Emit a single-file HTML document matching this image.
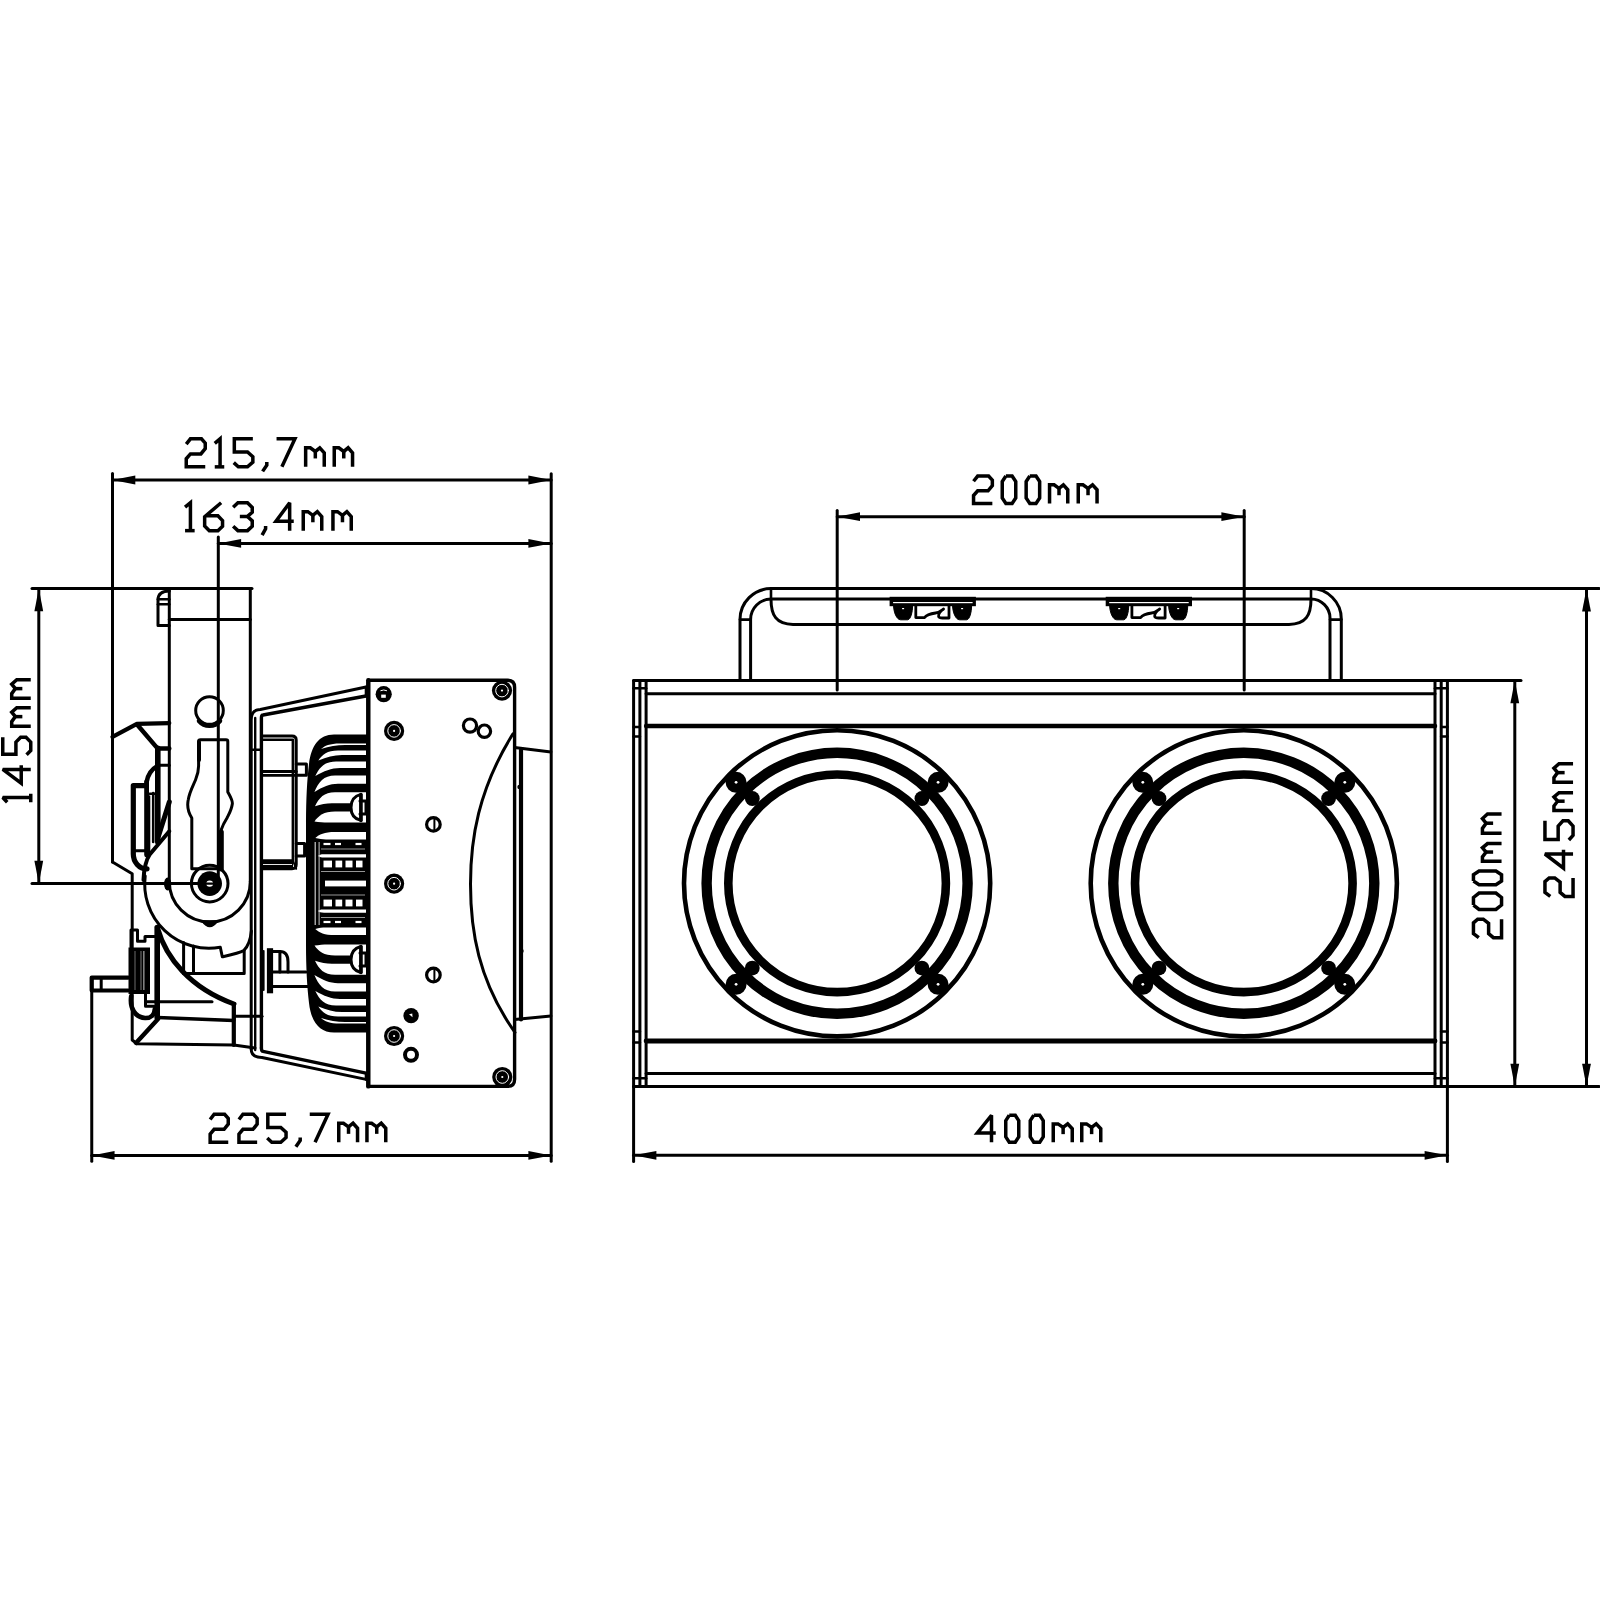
<!DOCTYPE html>
<html><head><meta charset="utf-8"><style>
html,body{margin:0;padding:0;background:#fff;overflow:hidden;}
svg{display:block;}
</style></head><body>
<svg width="1600" height="1600" viewBox="0 0 1600 1600">
<rect width="1600" height="1600" fill="#fff"/>
<g fill="none" stroke="#000" stroke-linecap="round" stroke-linejoin="round">
<path d="M186.25 444.17L190.43 438.85L201.45 438.85L205.25 443.05L205.25 448.65L200.88 453.97L190.43 453.97L186.25 458.73L186.25 466.85L205.25 466.85" stroke-width="3.5" stroke-linejoin="miter" stroke-miterlimit="2.5" stroke-linecap="butt"/>
<path d="M214.75 443.33L220.07 438.85L220.07 466.85" stroke-width="3.5" stroke-linejoin="miter" stroke-miterlimit="2.5" stroke-linecap="butt"/>
<path d="M214.75 466.85L224.25 466.85" stroke-width="3.5" stroke-linejoin="miter" stroke-miterlimit="2.5" stroke-linecap="butt"/>
<path d="M252.85 438.85L234.32 438.85L234.32 452.01L247.5 452.01L252.85 456.77L252.85 462.09L247.5 466.85L238.33 466.85L233.75 462.65" stroke-width="3.5" stroke-linejoin="miter" stroke-miterlimit="2.5" stroke-linecap="butt"/>
<path d="M266.8 462.1L266.8 465.1L262.6 471.4" stroke-width="3.5" stroke-linejoin="miter" stroke-miterlimit="2.5" stroke-linecap="butt"/>
<path d="M276.55 438.85L294.95 438.85L281.89 466.85" stroke-width="3.5" stroke-linejoin="miter" stroke-miterlimit="2.5" stroke-linecap="butt"/>
<path d="M305.65 466.85L305.65 447.81L310.3 447.81L315.32 451.45L319.79 447.81L324.25 452.85L324.25 466.85" stroke-width="3.5" stroke-linejoin="miter" stroke-miterlimit="2.5" stroke-linecap="butt"/>
<path d="M315.32 451.45L315.32 458.45" stroke-width="3.5" stroke-linejoin="miter" stroke-miterlimit="2.5" stroke-linecap="butt"/>
<path d="M334.25 466.85L334.25 447.81L338.82 447.81L343.77 451.45L348.16 447.81L352.55 452.85L352.55 466.85" stroke-width="3.5" stroke-linejoin="miter" stroke-miterlimit="2.5" stroke-linecap="butt"/>
<path d="M343.77 451.45L343.77 458.45" stroke-width="3.5" stroke-linejoin="miter" stroke-miterlimit="2.5" stroke-linecap="butt"/>
<path d="M185.05 507.21L190.43 502.75L190.43 530.65" stroke-width="3.5" stroke-linejoin="miter" stroke-miterlimit="2.5" stroke-linecap="butt"/>
<path d="M185.05 530.65L194.65 530.65" stroke-width="3.5" stroke-linejoin="miter" stroke-miterlimit="2.5" stroke-linecap="butt"/>
<path d="M221.12 502.75L204.65 516.7L204.65 525.91L209.3 530.65L217.9 530.65L222.55 526.19L222.55 520.61L217.9 515.86L205.37 515.86" stroke-width="3.5" stroke-linejoin="miter" stroke-miterlimit="2.5" stroke-linecap="butt"/>
<path d="M233.15 507.21L237.93 502.75L247.47 502.75L252.25 507.49L252.25 512.24L247.47 516.42L239.84 516.42" stroke-width="3.5" stroke-linejoin="miter" stroke-miterlimit="2.5" stroke-linecap="butt"/>
<path d="M247.47 516.42L252.25 520.88L252.25 526.19L247.47 530.65L237.93 530.65L233.15 526.19" stroke-width="3.5" stroke-linejoin="miter" stroke-miterlimit="2.5" stroke-linecap="butt"/>
<path d="M265.6 525.9L265.6 528.9L262.1 535.2" stroke-width="3.5" stroke-linejoin="miter" stroke-miterlimit="2.5" stroke-linecap="butt"/>
<path d="M289.66 530.65L289.66 502.75L275.95 521.16L293.75 521.16" stroke-width="3.5" stroke-linejoin="miter" stroke-miterlimit="2.5" stroke-linecap="butt"/>
<path d="M303.25 530.65L303.25 511.68L307.88 511.68L312.87 515.3L317.31 511.68L321.75 516.7L321.75 530.65" stroke-width="3.5" stroke-linejoin="miter" stroke-miterlimit="2.5" stroke-linecap="butt"/>
<path d="M312.87 515.3L312.87 522.28" stroke-width="3.5" stroke-linejoin="miter" stroke-miterlimit="2.5" stroke-linecap="butt"/>
<path d="M332.95 530.65L332.95 511.68L337.52 511.68L342.47 515.3L346.86 511.68L351.25 516.7L351.25 530.65" stroke-width="3.5" stroke-linejoin="miter" stroke-miterlimit="2.5" stroke-linecap="butt"/>
<path d="M342.47 515.3L342.47 522.28" stroke-width="3.5" stroke-linejoin="miter" stroke-miterlimit="2.5" stroke-linecap="butt"/>
<path d="M210.15 1119.57L214.13 1114.25L224.63 1114.25L228.25 1118.45L228.25 1124.05L224.09 1129.37L214.13 1129.37L210.15 1134.13L210.15 1142.25L228.25 1142.25" stroke-width="3.5" stroke-linejoin="miter" stroke-miterlimit="2.5" stroke-linecap="butt"/>
<path d="M238.95 1119.57L242.95 1114.25L253.51 1114.25L257.15 1118.45L257.15 1124.05L252.96 1129.37L242.95 1129.37L238.95 1134.13L238.95 1142.25L257.15 1142.25" stroke-width="3.5" stroke-linejoin="miter" stroke-miterlimit="2.5" stroke-linecap="butt"/>
<path d="M286.05 1114.25L267.81 1114.25L267.81 1127.41L280.79 1127.41L286.05 1132.17L286.05 1137.49L280.79 1142.25L271.76 1142.25L267.25 1138.05" stroke-width="3.5" stroke-linejoin="miter" stroke-miterlimit="2.5" stroke-linecap="butt"/>
<path d="M300.2 1137.5L300.2 1140.5L295.9 1146.8" stroke-width="3.5" stroke-linejoin="miter" stroke-miterlimit="2.5" stroke-linecap="butt"/>
<path d="M309.75 1114.25L328.05 1114.25L315.06 1142.25" stroke-width="3.5" stroke-linejoin="miter" stroke-miterlimit="2.5" stroke-linecap="butt"/>
<path d="M338.75 1142.25L338.75 1123.21L343.45 1123.21L348.53 1126.85L353.04 1123.21L357.55 1128.25L357.55 1142.25" stroke-width="3.5" stroke-linejoin="miter" stroke-miterlimit="2.5" stroke-linecap="butt"/>
<path d="M348.53 1126.85L348.53 1133.85" stroke-width="3.5" stroke-linejoin="miter" stroke-miterlimit="2.5" stroke-linecap="butt"/>
<path d="M366.95 1142.25L366.95 1123.21L371.65 1123.21L376.73 1126.85L381.24 1123.21L385.75 1128.25L385.75 1142.25" stroke-width="3.5" stroke-linejoin="miter" stroke-miterlimit="2.5" stroke-linecap="butt"/>
<path d="M376.73 1126.85L376.73 1133.85" stroke-width="3.5" stroke-linejoin="miter" stroke-miterlimit="2.5" stroke-linecap="butt"/>
<path d="M973.55 481.26L977.69 476.05L988.59 476.05L992.35 480.16L992.35 485.64L988.03 490.85L977.69 490.85L973.55 495.5L973.55 503.45L992.35 503.45" stroke-width="3.5" stroke-linejoin="miter" stroke-miterlimit="2.5" stroke-linecap="butt"/>
<path d="M1005.89 476.05L1012.11 476.05L1015.75 481.53L1015.75 497.97L1012.11 503.45L1005.89 503.45L1002.25 497.97L1002.25 481.53L1005.89 476.05" stroke-width="3.5" stroke-linejoin="miter" stroke-miterlimit="2.5" stroke-linecap="butt"/>
<path d="M1029.8 476.05L1036.01 476.05L1039.65 481.53L1039.65 497.97L1036.01 503.45L1029.8 503.45L1026.15 497.97L1026.15 481.53L1029.8 476.05" stroke-width="3.5" stroke-linejoin="miter" stroke-miterlimit="2.5" stroke-linecap="butt"/>
<path d="M1049.55 503.45L1049.55 484.82L1054.1 484.82L1059.01 488.38L1063.38 484.82L1067.75 489.75L1067.75 503.45" stroke-width="3.5" stroke-linejoin="miter" stroke-miterlimit="2.5" stroke-linecap="butt"/>
<path d="M1059.01 488.38L1059.01 495.23" stroke-width="3.5" stroke-linejoin="miter" stroke-miterlimit="2.5" stroke-linecap="butt"/>
<path d="M1078.25 503.45L1078.25 484.82L1082.95 484.82L1088.03 488.38L1092.54 484.82L1097.05 489.75L1097.05 503.45" stroke-width="3.5" stroke-linejoin="miter" stroke-miterlimit="2.5" stroke-linecap="butt"/>
<path d="M1088.03 488.38L1088.03 495.23" stroke-width="3.5" stroke-linejoin="miter" stroke-miterlimit="2.5" stroke-linecap="butt"/>
<path d="M991.5 1142.25L991.5 1115.25L977.25 1133.07L995.75 1133.07" stroke-width="3.5" stroke-linejoin="miter" stroke-miterlimit="2.5" stroke-linecap="butt"/>
<path d="M1009.26 1115.25L1015.24 1115.25L1018.75 1120.65L1018.75 1136.85L1015.24 1142.25L1009.26 1142.25L1005.75 1136.85L1005.75 1120.65L1009.26 1115.25" stroke-width="3.5" stroke-linejoin="miter" stroke-miterlimit="2.5" stroke-linecap="butt"/>
<path d="M1033.76 1115.25L1039.74 1115.25L1043.25 1120.65L1043.25 1136.85L1039.74 1142.25L1033.76 1142.25L1030.25 1136.85L1030.25 1120.65L1033.76 1115.25" stroke-width="3.5" stroke-linejoin="miter" stroke-miterlimit="2.5" stroke-linecap="butt"/>
<path d="M1053.25 1142.25L1053.25 1123.89L1058 1123.89L1063.13 1127.4L1067.69 1123.89L1072.25 1128.75L1072.25 1142.25" stroke-width="3.5" stroke-linejoin="miter" stroke-miterlimit="2.5" stroke-linecap="butt"/>
<path d="M1063.13 1127.4L1063.13 1134.15" stroke-width="3.5" stroke-linejoin="miter" stroke-miterlimit="2.5" stroke-linecap="butt"/>
<path d="M1081.75 1142.25L1081.75 1123.89L1086.5 1123.89L1091.63 1127.4L1096.19 1123.89L1100.75 1128.75L1100.75 1142.25" stroke-width="3.5" stroke-linejoin="miter" stroke-miterlimit="2.5" stroke-linecap="butt"/>
<path d="M1091.63 1127.4L1091.63 1134.15" stroke-width="3.5" stroke-linejoin="miter" stroke-miterlimit="2.5" stroke-linecap="butt"/>
<path d="M1478.79 937.65L1473.45 933.58L1473.45 922.85L1477.66 919.15L1483.29 919.15L1488.62 923.4L1488.62 933.58L1493.4 937.65L1501.55 937.65L1501.55 919.15" stroke-width="3.5" stroke-linejoin="miter" stroke-miterlimit="2.5" stroke-linecap="butt"/>
<path d="M1473.45 905.02L1473.45 897.48L1479.07 893.05L1495.93 893.05L1501.55 897.48L1501.55 905.02L1495.93 909.45L1479.07 909.45L1473.45 905.02" stroke-width="3.5" stroke-linejoin="miter" stroke-miterlimit="2.5" stroke-linecap="butt"/>
<path d="M1473.45 881.05L1473.45 874.75L1479.07 871.05L1495.93 871.05L1501.55 874.75L1501.55 881.05L1495.93 884.75L1479.07 884.75L1473.45 881.05" stroke-width="3.5" stroke-linejoin="miter" stroke-miterlimit="2.5" stroke-linecap="butt"/>
<path d="M1501.55 861.25L1482.44 861.25L1482.44 856.82L1486.1 852.05L1482.44 847.8L1487.5 843.55L1501.55 843.55" stroke-width="3.5" stroke-linejoin="miter" stroke-miterlimit="2.5" stroke-linecap="butt"/>
<path d="M1486.1 852.05L1493.12 852.05" stroke-width="3.5" stroke-linejoin="miter" stroke-miterlimit="2.5" stroke-linecap="butt"/>
<path d="M1501.55 833.25L1482.44 833.25L1482.44 828.42L1486.1 823.21L1482.44 818.58L1487.5 813.95L1501.55 813.95" stroke-width="3.5" stroke-linejoin="miter" stroke-miterlimit="2.5" stroke-linecap="butt"/>
<path d="M1486.1 823.21L1493.12 823.21" stroke-width="3.5" stroke-linejoin="miter" stroke-miterlimit="2.5" stroke-linecap="butt"/>
<path d="M1550.29 896.45L1544.95 892.38L1544.95 881.65L1549.16 877.95L1554.79 877.95L1560.12 882.21L1560.12 892.38L1564.9 896.45L1573.05 896.45L1573.05 877.95" stroke-width="3.5" stroke-linejoin="miter" stroke-miterlimit="2.5" stroke-linecap="butt"/>
<path d="M1573.05 854L1544.95 854L1563.5 868.25L1563.5 849.75" stroke-width="3.5" stroke-linejoin="miter" stroke-miterlimit="2.5" stroke-linecap="butt"/>
<path d="M1544.95 820.75L1544.95 839.47L1558.16 839.47L1558.16 826.15L1562.93 820.75L1568.27 820.75L1573.05 826.15L1573.05 835.42L1568.84 840.05" stroke-width="3.5" stroke-linejoin="miter" stroke-miterlimit="2.5" stroke-linecap="butt"/>
<path d="M1573.05 810.45L1553.94 810.45L1553.94 806L1557.6 801.19L1553.94 796.92L1559 792.65L1573.05 792.65" stroke-width="3.5" stroke-linejoin="miter" stroke-miterlimit="2.5" stroke-linecap="butt"/>
<path d="M1557.6 801.19L1564.62 801.19" stroke-width="3.5" stroke-linejoin="miter" stroke-miterlimit="2.5" stroke-linecap="butt"/>
<path d="M1573.05 782.25L1553.94 782.25L1553.94 777.62L1557.6 772.63L1553.94 768.19L1559 763.75L1573.05 763.75" stroke-width="3.5" stroke-linejoin="miter" stroke-miterlimit="2.5" stroke-linecap="butt"/>
<path d="M1557.6 772.63L1564.62 772.63" stroke-width="3.5" stroke-linejoin="miter" stroke-miterlimit="2.5" stroke-linecap="butt"/>
<path d="M7.23 802.25L2.75 797.49L30.75 797.49" stroke-width="3.5" stroke-linejoin="miter" stroke-miterlimit="2.5" stroke-linecap="butt"/>
<path d="M30.75 802.25L30.75 793.75" stroke-width="3.5" stroke-linejoin="miter" stroke-miterlimit="2.5" stroke-linecap="butt"/>
<path d="M30.75 769.39L2.75 769.39L21.23 783.25L21.23 765.25" stroke-width="3.5" stroke-linejoin="miter" stroke-miterlimit="2.5" stroke-linecap="butt"/>
<path d="M2.75 737.25L2.75 754.23L15.91 754.23L15.91 742.15L20.67 737.25L25.99 737.25L30.75 742.15L30.75 750.55L26.55 754.75" stroke-width="3.5" stroke-linejoin="miter" stroke-miterlimit="2.5" stroke-linecap="butt"/>
<path d="M30.75 726.25L11.71 726.25L11.71 721.62L15.35 716.63L11.71 712.19L16.75 707.75L30.75 707.75" stroke-width="3.5" stroke-linejoin="miter" stroke-miterlimit="2.5" stroke-linecap="butt"/>
<path d="M15.35 716.63L22.35 716.63" stroke-width="3.5" stroke-linejoin="miter" stroke-miterlimit="2.5" stroke-linecap="butt"/>
<path d="M30.75 698.25L11.71 698.25L11.71 693.62L15.35 688.63L11.71 684.19L16.75 679.75L30.75 679.75" stroke-width="3.5" stroke-linejoin="miter" stroke-miterlimit="2.5" stroke-linecap="butt"/>
<path d="M15.35 688.63L22.35 688.63" stroke-width="3.5" stroke-linejoin="miter" stroke-miterlimit="2.5" stroke-linecap="butt"/>
<path d="M112.5 473.5L112.5 862" stroke-width="3"/>
<path d="M218.3 537L218.3 884" stroke-width="3"/>
<path d="M551.2 473.7L551.2 1161.3" stroke-width="3"/>
<path d="M91.75 977.6L91.75 1161.3" stroke-width="3"/>
<path d="M112.5 480L551.2 480" stroke-width="3"/>
<path d="M112.5 480L135.3 475.6L135.3 484.4Z" fill="#000" stroke="none"/>
<path d="M551.2 480L528.4 484.4L528.4 475.6Z" fill="#000" stroke="none"/>
<path d="M218.3 543.4L551.2 543.4" stroke-width="3"/>
<path d="M218.3 543.4L241.1 539L241.1 547.8Z" fill="#000" stroke="none"/>
<path d="M551.2 543.4L528.4 547.8L528.4 539Z" fill="#000" stroke="none"/>
<path d="M91.75 1155.4L551.2 1155.4" stroke-width="3"/>
<path d="M91.75 1155.4L114.55 1151L114.55 1159.8Z" fill="#000" stroke="none"/>
<path d="M551.2 1155.4L528.4 1159.8L528.4 1151Z" fill="#000" stroke="none"/>
<path d="M32 588.4L252 588.4" stroke-width="3"/>
<path d="M32 883.6L200 883.6" stroke-width="3"/>
<path d="M38.8 588.4L38.8 883.6" stroke-width="3"/>
<path d="M38.8 588.4L43.2 611.2L34.4 611.2Z" fill="#000" stroke="none"/>
<path d="M38.8 883.6L34.4 860.8L43.2 860.8Z" fill="#000" stroke="none"/>
<path d="M837.2 510.4L837.2 690" stroke-width="3"/>
<path d="M1244.2 510.4L1244.2 690" stroke-width="3"/>
<path d="M837.2 516.7L1244.2 516.7" stroke-width="3"/>
<path d="M837.2 516.7L860 512.3L860 521.1Z" fill="#000" stroke="none"/>
<path d="M1244.2 516.7L1221.4 521.1L1221.4 512.3Z" fill="#000" stroke="none"/>
<path d="M1311 588.6L1599 588.6" stroke-width="3"/>
<path d="M1447.4 680.4L1521 680.4" stroke-width="3"/>
<path d="M1447.4 1086.5L1599 1086.5" stroke-width="3"/>
<path d="M1586.5 588.6L1586.5 1086.5" stroke-width="3"/>
<path d="M1586.5 588.6L1590.9 611.4L1582.1 611.4Z" fill="#000" stroke="none"/>
<path d="M1586.5 1086.5L1582.1 1063.7L1590.9 1063.7Z" fill="#000" stroke="none"/>
<path d="M1514.8 680.4L1514.8 1086.5" stroke-width="3"/>
<path d="M1514.8 680.4L1519.2 703.2L1510.4 703.2Z" fill="#000" stroke="none"/>
<path d="M1514.8 1086.5L1510.4 1063.7L1519.2 1063.7Z" fill="#000" stroke="none"/>
<path d="M633.6 1086.5L633.6 1161.5" stroke-width="3"/>
<path d="M1447.4 1086.5L1447.4 1161.5" stroke-width="3"/>
<path d="M633.6 1155.3L1447.4 1155.3" stroke-width="3"/>
<path d="M633.6 1155.3L656.4 1150.9L656.4 1159.7Z" fill="#000" stroke="none"/>
<path d="M1447.4 1155.3L1424.6 1159.7L1424.6 1150.9Z" fill="#000" stroke="none"/>
<path d="M633.6 680.4L1447.4 680.4" stroke-width="3"/>
<path d="M633.6 680.4L633.6 1086.5" stroke-width="3"/>
<path d="M1447.4 680.4L1447.4 1086.5" stroke-width="3"/>
<path d="M633.6 1086.5L1447.4 1086.5" stroke-width="3"/>
<path d="M639.9 680.4L639.9 1086.5" stroke-width="3"/>
<path d="M646.1 680.4L646.1 1086.5" stroke-width="3"/>
<path d="M1435 680.4L1435 1086.5" stroke-width="3"/>
<path d="M1441.2 680.4L1441.2 1086.5" stroke-width="3"/>
<path d="M646.1 693.75L1435 693.75" stroke-width="3"/>
<path d="M646.1 726L1435 726" stroke-width="4.5"/>
<path d="M646.1 1041L1435 1041" stroke-width="4.8"/>
<path d="M646.1 1073.4L1435 1073.4" stroke-width="3"/>
<path d="M633.6 688.2L646.1 688.2" stroke-width="2.6"/>
<path d="M633.6 1078.3L646.1 1078.3" stroke-width="2.6"/>
<path d="M1435 688.2L1447.4 688.2" stroke-width="2.6"/>
<path d="M1435 1078.3L1447.4 1078.3" stroke-width="2.6"/>
<path d="M633.6 727L639.9 727" stroke-width="2.6"/>
<path d="M633.6 736.5L639.9 736.5" stroke-width="2.6"/>
<path d="M633.6 1031.5L639.9 1031.5" stroke-width="2.6"/>
<path d="M633.6 1042.5L639.9 1042.5" stroke-width="2.6"/>
<path d="M1441.2 727L1447.4 727" stroke-width="2.6"/>
<path d="M1441.2 736.5L1447.4 736.5" stroke-width="2.6"/>
<path d="M1441.2 1031.5L1447.4 1031.5" stroke-width="2.6"/>
<path d="M1441.2 1042.5L1447.4 1042.5" stroke-width="2.6"/>
<path d="M740 680V619.6A31 31 0 0 1 771 588.6H1311A30.3 30.3 0 0 1 1341.3 618.9V680" stroke-width="3"/>
<path d="M750.6 680V619.6A20.6 20.6 0 0 1 771.2 599H1311A19 19 0 0 1 1330 618V680" stroke-width="3"/>
<path d="M740 619.6L750.6 619.6" stroke-width="2.6"/>
<path d="M1330 619.6L1341.3 619.6" stroke-width="2.6"/>
<path d="M771 588.6L771 599" stroke-width="2.6"/>
<path d="M1311 588.6L1311 599" stroke-width="2.6"/>
<path d="M771 599C771 615 776 624.4 793 624.4H1289C1306 624.4 1311 615 1311 599" stroke-width="3"/>
<rect x="889.6" y="596.8" width="86.3" height="9.4" fill="#000" stroke="none"/>
<rect x="893.1" y="602" width="79.5" height="1.2" fill="#fff" stroke="none"/>
<path d="M893.6 606C893.6 612 896.6 619.8 900.6 619.8H907.6C910.6 619.8 912.6 612 912.6 606Z" stroke-width="1" fill="#000"/>
<path d="M952.6 606C952.6 612 955.6 619.8 959.6 619.8H966.6C969.6 619.8 971.6 612 971.6 606Z" stroke-width="1" fill="#000"/>
<rect x="902.1" y="608" width="2" height="1.2" fill="#fff" stroke="none"/>
<rect x="961.1" y="608" width="2" height="1.2" fill="#fff" stroke="none"/>
<path d="M915.8 606V617.6H924.6C926.6 614.5 931.6 613.5 935.6 613C939.6 612.5 941.6 610.5 943.6 609C940.6 611 938.1 614 938.6 616.5C939.1 618 940.6 618 942.6 618H949V606" stroke-width="2.8"/>
<rect x="1105.7" y="596.8" width="86.3" height="9.4" fill="#000" stroke="none"/>
<rect x="1109.2" y="602" width="79.5" height="1.2" fill="#fff" stroke="none"/>
<path d="M1109.7 606C1109.7 612 1112.7 619.8 1116.7 619.8H1123.7C1126.7 619.8 1128.7 612 1128.7 606Z" stroke-width="1" fill="#000"/>
<path d="M1168.7 606C1168.7 612 1171.7 619.8 1175.7 619.8H1182.7C1185.7 619.8 1187.7 612 1187.7 606Z" stroke-width="1" fill="#000"/>
<rect x="1118.2" y="608" width="2" height="1.2" fill="#fff" stroke="none"/>
<rect x="1177.2" y="608" width="2" height="1.2" fill="#fff" stroke="none"/>
<path d="M1131.9 606V617.6H1140.7C1142.7 614.5 1147.7 613.5 1151.7 613C1155.7 612.5 1157.7 610.5 1159.7 609C1156.7 611 1154.2 614 1154.7 616.5C1155.2 618 1156.7 618 1158.7 618H1165.1V606" stroke-width="2.8"/>
<circle cx="837.1" cy="883.3" r="153.1" stroke-width="4.6"/>
<circle cx="837.1" cy="883.3" r="130.5" stroke-width="10.4"/>
<circle cx="837.1" cy="883.3" r="108.8" stroke-width="8.6"/>
<circle cx="736.1" cy="782.3" r="8.2" stroke-width="4.6" fill="#000"/>
<circle cx="736.1" cy="782.3" r="1.4" stroke-width="0" fill="#fff"/>
<circle cx="752.3" cy="798.5" r="7.4" stroke-width="0" fill="#000"/>
<circle cx="736.1" cy="984.3" r="8.2" stroke-width="4.6" fill="#000"/>
<circle cx="736.1" cy="984.3" r="1.4" stroke-width="0" fill="#fff"/>
<circle cx="752.3" cy="968.1" r="7.4" stroke-width="0" fill="#000"/>
<circle cx="938.1" cy="782.3" r="8.2" stroke-width="4.6" fill="#000"/>
<circle cx="938.1" cy="782.3" r="1.4" stroke-width="0" fill="#fff"/>
<circle cx="921.9" cy="798.5" r="7.4" stroke-width="0" fill="#000"/>
<circle cx="938.1" cy="984.3" r="8.2" stroke-width="4.6" fill="#000"/>
<circle cx="938.1" cy="984.3" r="1.4" stroke-width="0" fill="#fff"/>
<circle cx="921.9" cy="968.1" r="7.4" stroke-width="0" fill="#000"/>
<circle cx="1243.8" cy="883.3" r="153.1" stroke-width="4.6"/>
<circle cx="1243.8" cy="883.3" r="130.5" stroke-width="10.4"/>
<circle cx="1243.8" cy="883.3" r="108.8" stroke-width="8.6"/>
<circle cx="1142.8" cy="782.3" r="8.2" stroke-width="4.6" fill="#000"/>
<circle cx="1142.8" cy="782.3" r="1.4" stroke-width="0" fill="#fff"/>
<circle cx="1159" cy="798.5" r="7.4" stroke-width="0" fill="#000"/>
<circle cx="1142.8" cy="984.3" r="8.2" stroke-width="4.6" fill="#000"/>
<circle cx="1142.8" cy="984.3" r="1.4" stroke-width="0" fill="#fff"/>
<circle cx="1159" cy="968.1" r="7.4" stroke-width="0" fill="#000"/>
<circle cx="1344.8" cy="782.3" r="8.2" stroke-width="4.6" fill="#000"/>
<circle cx="1344.8" cy="782.3" r="1.4" stroke-width="0" fill="#fff"/>
<circle cx="1328.6" cy="798.5" r="7.4" stroke-width="0" fill="#000"/>
<circle cx="1344.8" cy="984.3" r="8.2" stroke-width="4.6" fill="#000"/>
<circle cx="1344.8" cy="984.3" r="1.4" stroke-width="0" fill="#fff"/>
<circle cx="1328.6" cy="968.1" r="7.4" stroke-width="0" fill="#000"/>
<path d="M169.3 588.4L169.3 881.5" stroke-width="3"/>
<path d="M250.3 588.4L250.3 881.5" stroke-width="3"/>
<path d="M169.3 881.5A40.5 40.5 0 0 0 250.3 881.5" stroke-width="3"/>
<path d="M169.3 619.4L250.3 619.4" stroke-width="3"/>
<path d="M169.3 625.6H158V600C158 594 162 591 169.3 591" stroke-width="3"/>
<path d="M158 599.2L169.3 599.2" stroke-width="2.6"/>
<path d="M158 604.2L169.3 604.2" stroke-width="2.6"/>
<circle cx="209.5" cy="710.5" r="13.8" stroke-width="3"/>
<path d="M199 721A13.8 13.8 0 0 0 220 721" stroke-width="4.5"/>
<ellipse cx="167.6" cy="884" rx="3.6" ry="6.5" fill="#000" stroke="none"/>
<path d="M202 921Q209.8 932 217.6 921Z" fill="#000" stroke="#000" stroke-width="1.5"/>
<path d="M198.6 766V741.5Q198.6 739.8 200.5 739.8H226Q227.8 739.8 227.8 741.5V792C230 796 233 801 232.3 804C231.5 810 229 814 227 818C222 826 219.5 832 219.8 842V868.8H191.8V818C188 812 187 806 188.2 800C189.5 792 193 786 195.5 780C198 774 198.6 770 198.6 766" stroke-width="3"/>
<path d="M199 742L199 760" stroke-width="4"/>
<path d="M221.2 832L221.2 868.8" stroke-width="5.2"/>
<circle cx="209.7" cy="883.6" r="18.3" stroke-width="3"/>
<circle cx="209.7" cy="883.6" r="12.3" stroke-width="0" fill="#000"/>
<ellipse cx="209.7" cy="883.6" rx="3.4" ry="3.2" fill="#fff" stroke="none"/>
<path d="M205 883.6L214 883.6" stroke-width="2.4"/>
<path d="M145.2 876A64.2 64.2 0 0 0 220.3 947.2L222.3 956.8C230 955 239 953 243.7 950.6C247.5 947 250.5 940 251.4 931" stroke-width="3"/>
<path d="M183.6 942.5L183.6 973.6" stroke-width="3"/>
<path d="M193.5 946L193.5 973.6" stroke-width="3"/>
<path d="M183.6 973.6H244.2V950.5" stroke-width="3"/>
<path d="M112.5 736.9L136.9 723.8L169.3 723.1" stroke-width="4.2"/>
<path d="M137.5 725L157.5 748.4H169.3" stroke-width="4.5"/>
<path d="M157.8 748.4L157.8 842" stroke-width="5.6"/>
<path d="M157.5 765.25L169.3 765.25" stroke-width="3"/>
<path d="M112.5 862L132.2 873.8V1040L137 1043.8L233.8 1045L255 1048" stroke-width="3"/>
<path d="M145.5 785.6H133.3V854C133.3 862 139 868.8 147 868.8" stroke-width="5.2"/>
<path d="M134 850.8L145.5 850.8" stroke-width="3"/>
<path d="M146.6 781.8L146.6 855" stroke-width="4.8"/>
<path d="M149.6 796L149.6 855" stroke-width="1.4"/>
<path d="M153.2 793L153.2 842" stroke-width="2.6"/>
<path d="M146.6 782C148 774 152 769 157.5 766" stroke-width="4.5"/>
<path d="M149.6 793.8L157.5 793.8" stroke-width="2.5"/>
<path d="M169.3 802L158.5 836" stroke-width="5"/>
<path d="M169.3 831.2L149.7 854.5C146 860 144 868 143.5 880" stroke-width="4"/>
<path d="M128.3 977.6H91.7V990.5H128.3" stroke-width="4.2"/>
<path d="M101.2 977.6L101.2 990.5" stroke-width="3"/>
<rect x="128.5" y="947.5" width="21.5" height="46.5" fill="#000" stroke="none"/>
<rect x="134.6" y="951" width="0.8" height="39" fill="#888" stroke="none"/>
<rect x="140.6" y="951" width="0.8" height="39" fill="#999" stroke="none"/>
<rect x="143.5" y="951" width="0.8" height="39" fill="#fff" stroke="none"/>
<path d="M131 947.5V930H137.5V941.2H145V936.5H154.5" stroke-width="3"/>
<path d="M145.5 994V1006.2H154" stroke-width="3"/>
<path d="M131.2 996C129.5 1008 135 1017.5 145 1018C151 1018.3 154.5 1015 154.8 1009" stroke-width="4.6"/>
<path d="M157.2 927.5L157.2 1017.5" stroke-width="5.6"/>
<path d="M157.5 928C166 958 190 988 234 1004" stroke-width="5"/>
<path d="M146 1001.8L212 1001.8" stroke-width="3"/>
<path d="M157.5 1017.5L233.8 1020.5V1004" stroke-width="3.5"/>
<path d="M233.8 1004L233.8 1045" stroke-width="4.2"/>
<path d="M233.8 1016.2L262 1016.2" stroke-width="3"/>
<path d="M158 1019L136 1043" stroke-width="4.4"/>
<path d="M251.2 1049V720C251.2 713 254 709.5 260.3 709.5L366 687" stroke-width="3"/>
<path d="M261.4 1048V718C261.4 716 262 715 263 715L366 696" stroke-width="3.4"/>
<path d="M366 687L366 696" stroke-width="2.6"/>
<path d="M251.2 1049C251.2 1054 254 1057.5 262 1057.5L366 1079.4" stroke-width="3"/>
<path d="M261.4 1048C261.4 1050 262 1051.3 263 1051.3L366 1073.2" stroke-width="3.4"/>
<path d="M366 1073.2L366 1079.4" stroke-width="2.6"/>
<path d="M255.2 718L255.2 1050" stroke-width="2.4"/>
<path d="M250.5 749.8L261.4 749.8" stroke-width="2.4"/>
<path d="M262.5 736H292Q296.2 736 296.2 740V864.6Q296.2 868.8 292 868.8H262.5" stroke-width="3"/>
<path d="M262.5 739.7H292.9V860.5H262.5" stroke-width="2.6"/>
<path d="M292.9 860.5L296.2 868.8" stroke-width="2"/>
<rect x="262.5" y="861" width="30.5" height="7" fill="#000" stroke="none"/>
<rect x="263" y="864" width="29" height="0.9" fill="#fff" stroke="none"/>
<path d="M262.5 771.5L296.2 771.5" stroke-width="3"/>
<path d="M262.5 775.4L296.2 775.4" stroke-width="2.6"/>
<path d="M296.2 764H306.4V775.3H296.2" stroke-width="3"/>
<path d="M296.2 843.6H304.6V856H296.2" stroke-width="3"/>
<rect x="266.9" y="948.2" width="6.2" height="45.1" fill="#000" stroke="none"/>
<path d="M263.6 951L263.6 990" stroke-width="2"/>
<path d="M273 951.6H280C285 951.6 288 955 288 962V971.9" stroke-width="3"/>
<path d="M279.9 951.6L279.9 971.9" stroke-width="3"/>
<path d="M273 971.9L306 971.9" stroke-width="3"/>
<path d="M273 986.5L308 986.5" stroke-width="3"/>
<path d="M368 734.4H334C319 734.4 311 746 309 764C307 780 306 800 306 822V945C306 967 307 987 309 1003C311 1021 319 1032.6 334 1032.6H368Z" stroke-width="0" fill="#000"/>
<path d="M366 743.4H340C329.55 743.4 324.8 745.64 321 749C329.4 746.6 336.6 745 345 745H366Z" fill="#fff" stroke="none"/>
<path d="M366 1023.6H340C329.55 1023.6 324.8 1021.36 321 1018C329.4 1020.4 336.6 1022 345 1022H366Z" fill="#fff" stroke="none"/>
<path d="M366 750.6H338C327.22 750.6 322.32 754.6 318.4 760.6C326.66 757.24 333.74 755 342 755H366Z" fill="#fff" stroke="none"/>
<path d="M366 1016.4H338C327.22 1016.4 322.32 1012.4 318.4 1006.4C326.66 1009.76 333.74 1012 342 1012H366Z" fill="#fff" stroke="none"/>
<path d="M366 761.5H336C324.62 761.5 319.44 767.3 315.3 776C323.94 771.2 331.36 768 340 768H366Z" fill="#fff" stroke="none"/>
<path d="M366 1005.5H336C324.62 1005.5 319.44 999.7 315.3 991C323.94 995.8 331.36 999 340 999H366Z" fill="#fff" stroke="none"/>
<path d="M366 775.5H335C323.67 775.5 318.52 782.1 314.4 792C322.66 787.08 329.74 783.8 338 783.8H366Z" fill="#fff" stroke="none"/>
<path d="M366 991.5H335C323.67 991.5 318.52 984.9 314.4 975C322.66 979.92 329.74 983.2 338 983.2H366Z" fill="#fff" stroke="none"/>
<path d="M366 792.2H335C324 792.2 319 797.8 315 806.2C320.95 804.4 326.05 803.2 332 803.2H366Z" fill="#fff" stroke="none"/>
<path d="M366 974.8H335C324 974.8 319 969.2 315 960.8C320.95 962.6 326.05 963.8 332 963.8H366Z" fill="#fff" stroke="none"/>
<path d="M366 811.5H335C323.73 811.5 318.6 815.5 314.5 821.5C319.23 822.16 323.27 822.6 328 822.6H366Z" fill="#fff" stroke="none"/>
<path d="M366 955.5H335C323.73 955.5 318.6 951.5 314.5 945.5C319.23 944.84 323.27 944.4 328 944.4H366Z" fill="#fff" stroke="none"/>
<path d="M366 832H335C324.17 832 319.24 834.44 315.3 838.1C319.05 838.88 322.25 839.4 326 839.4H366Z" fill="#fff" stroke="none"/>
<path d="M366 935H335C324.17 935 319.24 932.56 315.3 928.9C319.05 928.12 322.25 927.6 326 927.6H366Z" fill="#fff" stroke="none"/>
<path d="M366 854.3H324C320.7 854.3 319.2 854.98 318 856C319.4 856.84 320.6 857.4 322 857.4H366Z" fill="#fff" stroke="none"/>
<path d="M366 912.7H324C320.7 912.7 319.2 912.02 318 911C319.4 910.16 320.6 909.6 322 909.6H366Z" fill="#fff" stroke="none"/>
<rect x="323.5" y="842.9" width="7" height="2.2" fill="#fff" stroke="none"/>
<rect x="335" y="842.9" width="6" height="2.2" fill="#fff" stroke="none"/>
<rect x="355.5" y="842.9" width="6" height="2.2" fill="#fff" stroke="none"/>
<rect x="323.5" y="920.9" width="7" height="2.2" fill="#fff" stroke="none"/>
<rect x="335" y="920.9" width="6" height="2.2" fill="#fff" stroke="none"/>
<rect x="355.5" y="920.9" width="6" height="2.2" fill="#fff" stroke="none"/>
<rect x="323.5" y="860.6" width="8.5" height="6.8" fill="#fff" stroke="none"/>
<rect x="335.5" y="860.6" width="6.7" height="6.8" fill="#fff" stroke="none"/>
<rect x="345.5" y="860.6" width="7" height="6.8" fill="#fff" stroke="none"/>
<rect x="356" y="860.6" width="6.5" height="6.8" fill="#fff" stroke="none"/>
<rect x="323.5" y="899.6" width="8.5" height="6.8" fill="#fff" stroke="none"/>
<rect x="335.5" y="899.6" width="6.7" height="6.8" fill="#fff" stroke="none"/>
<rect x="345.5" y="899.6" width="7" height="6.8" fill="#fff" stroke="none"/>
<rect x="356" y="899.6" width="6.5" height="6.8" fill="#fff" stroke="none"/>
<rect x="325" y="880.6" width="41" height="5.8" fill="#fff" stroke="none"/>
<rect x="321" y="848.6" width="44" height="0.8" fill="#bbb" stroke="none"/>
<rect x="321" y="871" width="44" height="0.8" fill="#bbb" stroke="none"/>
<rect x="321" y="894.6" width="44" height="0.8" fill="#bbb" stroke="none"/>
<rect x="321" y="917.2" width="44" height="0.8" fill="#bbb" stroke="none"/>
<rect x="314.6" y="842" width="1.2" height="83" fill="#ccc" stroke="none"/>
<rect x="318.6" y="842" width="1" height="83" fill="#ccc" stroke="none"/>
<path d="M360.8 794.4C353 796.4 351 802.4 351 807.4C351 812.4 353 818.4 360.8 820.4Z" stroke-width="3" fill="#fff"/>
<path d="M360 800.9H366V813.9H360" stroke-width="3" fill="#fff"/>
<path d="M361 794.4L361 820.4" stroke-width="3.5"/>
<path d="M360.8 946.5C353 948.5 351 954.5 351 959.5C351 964.5 353 970.5 360.8 972.5Z" stroke-width="3" fill="#fff"/>
<path d="M360 953H366V966H360" stroke-width="3" fill="#fff"/>
<path d="M361 946.5L361 972.5" stroke-width="3.5"/>
<path d="M368.3 680.3H507.5Q514.6 680.3 514.6 687.4V1079.3Q514.6 1086.4 507.5 1086.4H368.3Z" stroke-width="3.4"/>
<path d="M368.3 680.3L368.3 1086.4" stroke-width="4.4"/>
<circle cx="383.7" cy="694.2" r="8.1" stroke-width="0" fill="#000"/>
<rect x="381.2" y="694.6" width="4.6" height="3.2" fill="#fff" stroke="none"/>
<path d="M380.8 690.4Q383.7 689 386.6 690.4" stroke-width="1"/>
<path d="M380.8 690.6Q383.7 689.2 386.6 690.6" stroke="#fff" stroke-width="1"/>
<circle cx="394.1" cy="730.9" r="10.1" stroke-width="0" fill="#000"/>
<circle cx="394.1" cy="730.9" r="6.3" stroke="#fff" stroke-width="1"/>
<circle cx="394.1" cy="730.9" r="1.1" stroke-width="0" fill="#fff"/>
<circle cx="394.1" cy="883.7" r="10.1" stroke-width="0" fill="#000"/>
<circle cx="394.1" cy="883.7" r="6.3" stroke="#fff" stroke-width="1"/>
<circle cx="394.1" cy="883.7" r="1.1" stroke-width="0" fill="#fff"/>
<circle cx="394.1" cy="1036" r="10.1" stroke-width="0" fill="#000"/>
<circle cx="394.1" cy="1036" r="6.3" stroke="#fff" stroke-width="1"/>
<circle cx="394.1" cy="1036" r="1.1" stroke-width="0" fill="#fff"/>
<circle cx="502" cy="690.6" r="10.1" stroke-width="0" fill="#000"/>
<circle cx="502" cy="690.6" r="6.3" stroke="#fff" stroke-width="1"/>
<circle cx="502" cy="690.6" r="1.1" stroke-width="0" fill="#fff"/>
<circle cx="502.3" cy="1077" r="10.1" stroke-width="0" fill="#000"/>
<circle cx="502.3" cy="1077" r="6.3" stroke="#fff" stroke-width="1"/>
<circle cx="502.3" cy="1077" r="1.1" stroke-width="0" fill="#fff"/>
<circle cx="470" cy="725.6" r="6.6" stroke-width="3.2"/>
<circle cx="484.4" cy="731.2" r="6.2" stroke-width="3.2"/>
<circle cx="433.4" cy="824.4" r="6.8" stroke-width="3.2"/>
<path d="M434.4 818.4L434.4 830.4" stroke-width="2"/>
<circle cx="433.4" cy="975" r="6.8" stroke-width="3.2"/>
<path d="M434.4 969L434.4 981" stroke-width="2"/>
<circle cx="411.1" cy="1015.6" r="7.7" stroke-width="0" fill="#000"/>
<path d="M409 1014.2L412.3 1013.6L412.5 1017.3Z" fill="#fff" stroke="none"/>
<circle cx="411" cy="1054.8" r="6" stroke-width="4"/>
<path d="M513 733.8C478 790 470.5 840 470.5 884C470.5 930 478 980 515 1032.5" stroke-width="3"/>
<path d="M514.6 747.5L550.9 751.9" stroke-width="3"/>
<path d="M514.6 1019.5L550.9 1016" stroke-width="3"/>
<path d="M521 750L521 1019.5" stroke-width="4.2"/>
<circle cx="519.5" cy="787" r="2.2" stroke-width="0" fill="#000"/>
<circle cx="521.5" cy="951" r="2.2" stroke-width="0" fill="#000"/>
</g>
</svg>
</body></html>
